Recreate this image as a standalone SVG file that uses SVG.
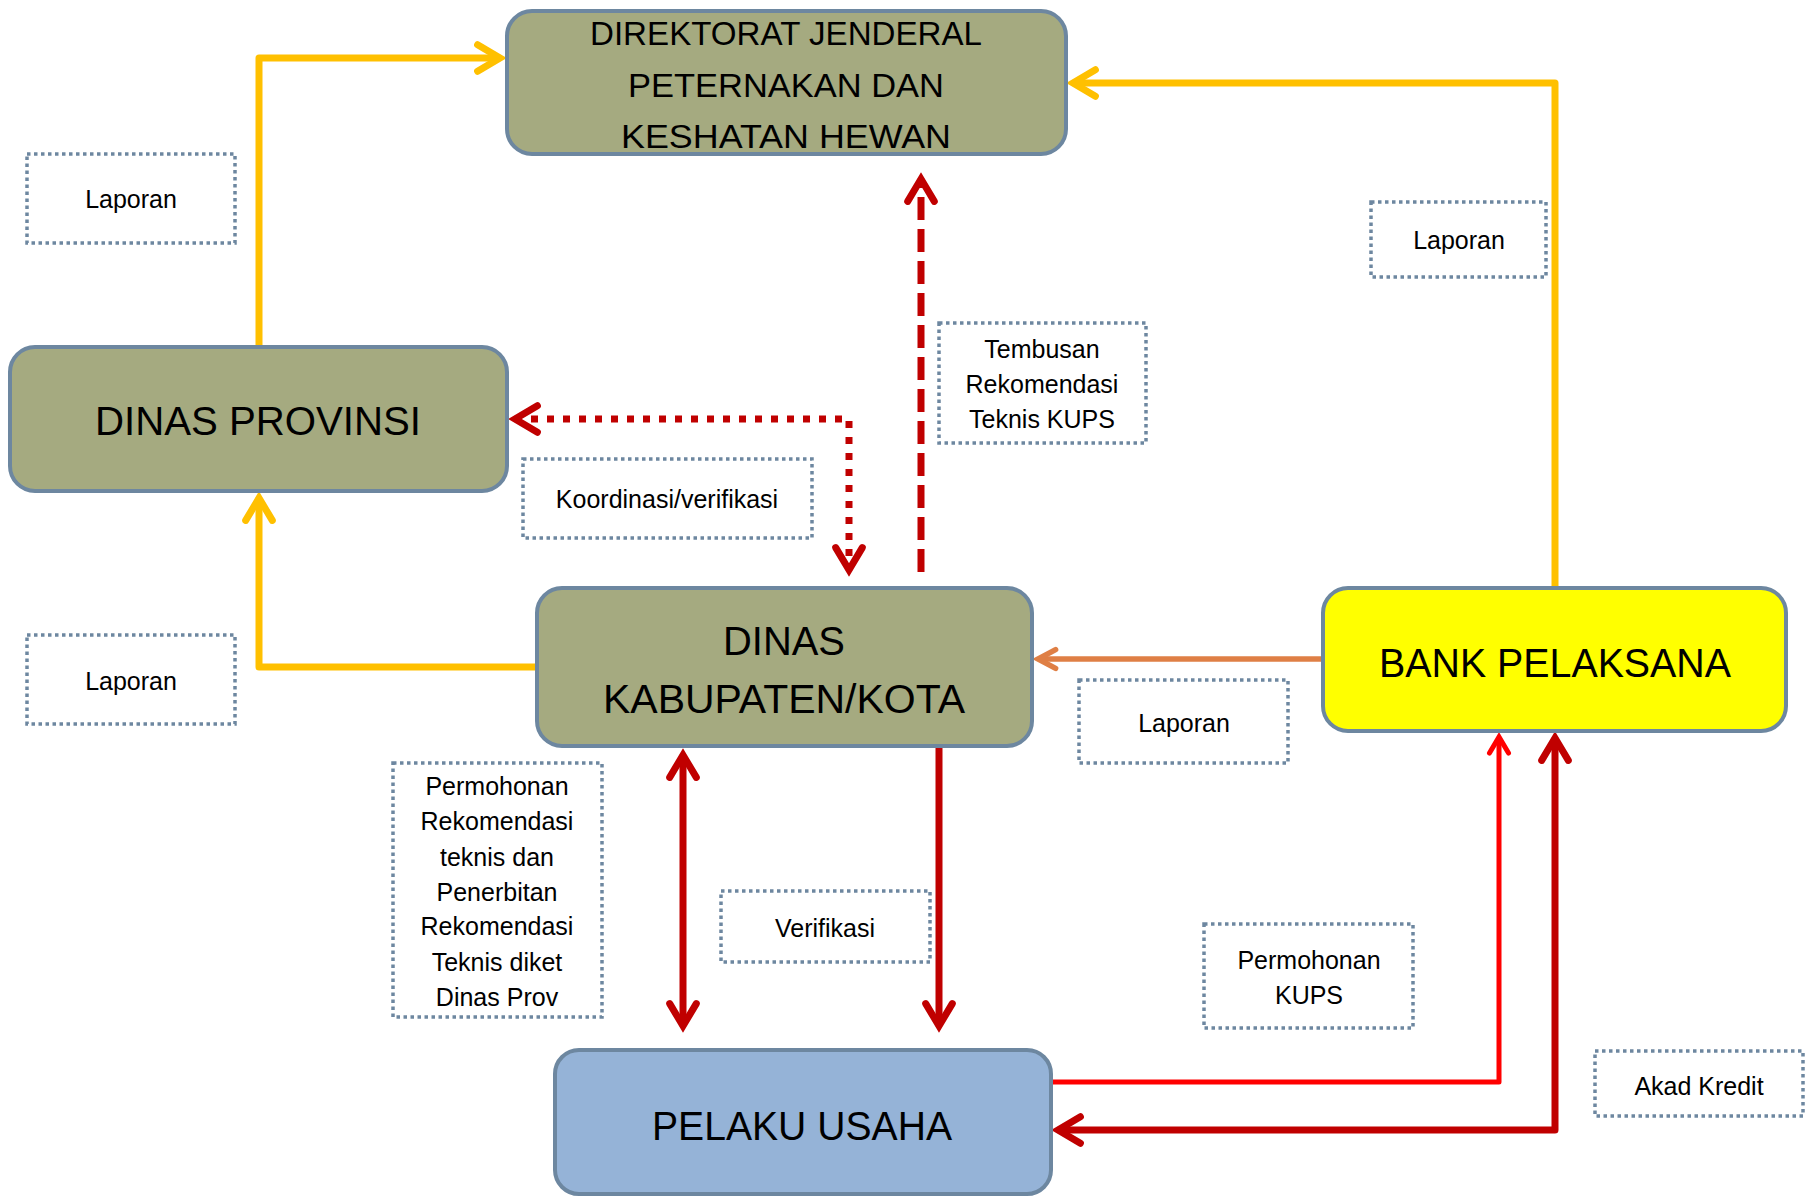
<svg xmlns="http://www.w3.org/2000/svg" width="1818" height="1196" viewBox="0 0 1818 1196">
<style>
.node{stroke:#6D87A0;stroke-width:4}
.olive{fill:#A5AA80}
.ntxt{font-family:"Liberation Sans",Arial,sans-serif;font-size:40px;fill:#000;text-anchor:middle}
.ttl{font-size:34px}
.lbl{fill:#fff;stroke:#6D87A0;stroke-width:3.5;stroke-dasharray:3.5 3.5}
.ltxt{font-family:"Liberation Sans",Arial,sans-serif;font-size:25px;fill:#000;text-anchor:middle}
.c{fill:none;stroke-linejoin:round}
.yel{stroke:#FFC000;stroke-width:7}
.dred{stroke:#C00000;stroke-width:7}
.red{stroke:#FF0000;stroke-width:5}
.org{stroke:#DF7F45;stroke-width:5.5}
</style>
<defs>
<marker id="aY" viewBox="-5 -4 8 8" markerWidth="8" markerHeight="8" refX="0" refY="0" orient="auto-start-reverse" markerUnits="strokeWidth"><path d="M-3.2,-1.9 L0,0 L-3.2,1.9" fill="none" stroke="#FFC000" stroke-width="1" stroke-linecap="round" stroke-linejoin="miter"/></marker>
<marker id="aD" viewBox="-5 -4 8 8" markerWidth="8" markerHeight="8" refX="0" refY="0" orient="auto-start-reverse" markerUnits="strokeWidth"><path d="M-3.2,-1.9 L0,0 L-3.2,1.9" fill="none" stroke="#C00000" stroke-width="1" stroke-linecap="round" stroke-linejoin="miter"/></marker>
<marker id="aR" viewBox="-5 -4 8 8" markerWidth="8" markerHeight="8" refX="0" refY="0" orient="auto-start-reverse" markerUnits="strokeWidth"><path d="M-3.2,-1.9 L0,0 L-3.2,1.9" fill="none" stroke="#FF0000" stroke-width="1" stroke-linecap="round" stroke-linejoin="miter"/></marker>
<marker id="aO" viewBox="-5 -4 8 8" markerWidth="8" markerHeight="8" refX="0" refY="0" orient="auto-start-reverse" markerUnits="strokeWidth"><path d="M-3.2,-1.7 L0,0 L-3.2,1.7" fill="none" stroke="#DF7F45" stroke-width="1" stroke-linecap="round" stroke-linejoin="miter"/></marker>
</defs>
<rect width="1818" height="1196" fill="#fff"/>

<g id="connectors">
<path class="c yel" d="M259,347 V58 H500" marker-end="url(#aY)"/>
<path class="c yel" d="M1555,588 V83 H1073" marker-end="url(#aY)"/>
<path class="c yel" d="M537,667 H259 V498" marker-end="url(#aY)"/>
<path class="c dred" d="M515,419 H849 V570" stroke-dasharray="7 9" stroke-linejoin="miter" marker-start="url(#aD)" marker-end="url(#aD)"/>
<path class="c dred" d="M921,572 V179" stroke-width="7.5" stroke-dasharray="23 9" marker-end="url(#aD)"/>
<path class="c org" d="M1323,659 H1038" marker-end="url(#aO)"/>
<path class="c dred" d="M683,755 V1026" marker-start="url(#aD)" marker-end="url(#aD)"/>
<path class="c dred" d="M939,747 V1026" marker-end="url(#aD)"/>
<path class="c red" d="M1051,1082 H1499 V737" marker-end="url(#aR)"/>
<path class="c dred" d="M1555,738 V1130 H1058" marker-start="url(#aD)" marker-end="url(#aD)"/>
</g>

<g id="n-direktorat">
<rect class="node olive" x="507" y="11" width="559" height="143" rx="25"/>
<text class="ntxt ttl" x="786" y="45" textLength="392" lengthAdjust="spacingAndGlyphs">DIREKTORAT JENDERAL</text>
<text class="ntxt ttl" x="786" y="97" textLength="316" lengthAdjust="spacingAndGlyphs">PETERNAKAN DAN</text>
<text class="ntxt ttl" x="786" y="148" textLength="330" lengthAdjust="spacingAndGlyphs">KESHATAN HEWAN</text>
</g>
<g id="n-provinsi">
<rect class="node olive" x="10" y="347" width="497" height="144" rx="25"/>
<text class="ntxt" x="258" y="435" textLength="326" lengthAdjust="spacingAndGlyphs">DINAS PROVINSI</text>
</g>
<g id="n-kabupaten">
<rect class="node olive" x="537" y="588" width="495" height="158" rx="25"/>
<text class="ntxt" x="784" y="655" textLength="122" lengthAdjust="spacingAndGlyphs">DINAS</text>
<text class="ntxt" x="784" y="713" textLength="362" lengthAdjust="spacingAndGlyphs">KABUPATEN/KOTA</text>
</g>
<g id="n-bank">
<rect class="node" fill="#FFFF00" x="1323" y="588" width="463" height="143" rx="25"/>
<text class="ntxt" x="1555" y="677" textLength="352" lengthAdjust="spacingAndGlyphs">BANK PELAKSANA</text>
</g>
<g id="n-pelaku">
<rect class="node" fill="#95B3D7" x="555" y="1050" width="496" height="144" rx="24"/>
<text class="ntxt" x="802" y="1140" textLength="300" lengthAdjust="spacingAndGlyphs">PELAKU USAHA</text>
</g>

<g id="l-laporan-tl">
<rect class="lbl" x="27" y="154" width="208" height="89"/>
<text class="ltxt" x="131" y="208">Laporan</text>
</g>
<g id="l-laporan-r">
<rect class="lbl" x="1371" y="202" width="175" height="75"/>
<text class="ltxt" x="1459" y="249">Laporan</text>
</g>
<g id="l-tembusan">
<rect class="lbl" x="939" y="323" width="207" height="120"/>
<text class="ltxt" x="1042" y="358">Tembusan</text>
<text class="ltxt" x="1042" y="393">Rekomendasi</text>
<text class="ltxt" x="1042" y="428">Teknis KUPS</text>
</g>
<g id="l-koordinasi">
<rect class="lbl" x="523" y="459" width="289" height="79"/>
<text class="ltxt" x="667" y="508">Koordinasi/verifikasi</text>
</g>
<g id="l-laporan-l">
<rect class="lbl" x="27" y="635" width="208" height="89"/>
<text class="ltxt" x="131" y="690">Laporan</text>
</g>
<g id="l-laporan-m">
<rect class="lbl" x="1079" y="680" width="209" height="83"/>
<text class="ltxt" x="1184" y="732">Laporan</text>
</g>
<g id="l-permohonan-rek">
<rect class="lbl" x="393" y="763" width="209" height="254"/>
<text class="ltxt" x="497" y="795">Permohonan</text>
<text class="ltxt" x="497" y="830">Rekomendasi</text>
<text class="ltxt" x="497" y="866">teknis dan</text>
<text class="ltxt" x="497" y="901">Penerbitan</text>
<text class="ltxt" x="497" y="935">Rekomendasi</text>
<text class="ltxt" x="497" y="971">Teknis diket</text>
<text class="ltxt" x="497" y="1006">Dinas Prov</text>
</g>
<g id="l-verifikasi">
<rect class="lbl" x="721" y="891" width="209" height="71"/>
<text class="ltxt" x="825" y="937">Verifikasi</text>
</g>
<g id="l-permohonan-kups">
<rect class="lbl" x="1204" y="924" width="209" height="104"/>
<text class="ltxt" x="1309" y="969">Permohonan</text>
<text class="ltxt" x="1309" y="1004">KUPS</text>
</g>
<g id="l-akad">
<rect class="lbl" x="1595" y="1051" width="208" height="65"/>
<text class="ltxt" x="1699" y="1095">Akad Kredit</text>
</g>
</svg>
